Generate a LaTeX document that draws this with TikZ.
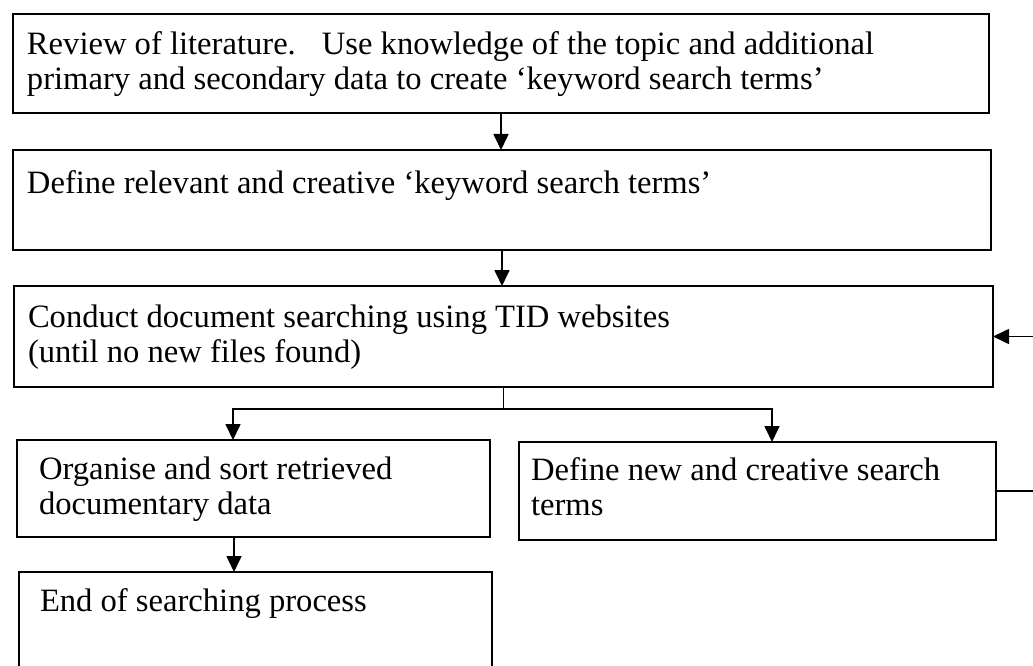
\documentclass[tikz,border=0pt]{standalone}
\usepackage{fontspec}
\setmainfont{Liberation Serif}
\usetikzlibrary{arrows.meta}
\newcommand\boxtext[4]{\parbox[c][#1pt][t]{#3pt}{\vspace*{#2pt}\raggedright\strut #4}}
\begin{document}
\begin{tikzpicture}[x=1pt,y=-1pt,
  font=\fontsize{32.6}{35}\selectfont,
  box/.style={draw, line width=1.7pt, anchor=north west, inner ysep=0pt, outer sep=0pt},
  openbox/.style={anchor=north west, inner ysep=0pt, outer sep=0pt},
  conn/.style={line width=1.7pt},
  arr/.style={conn, -{Triangle[width=15pt,length=16pt]}}]
\useasboundingbox (0,0) rectangle (1033,666);

\node[box, inner xsep=14pt] (b1) at (13,14)
  {\boxtext{99}{16.5}{948}{Review of literature.\hspace{26pt}Use knowledge of the topic and additional\\ primary and secondary data to create ‘keyword search terms’}};
\node[box, inner xsep=14pt] (b2) at (13,150)
  {\boxtext{100}{18.5}{950}{Define relevant and creative ‘keyword search terms’}};
\node[box, inner xsep=14pt] (b3) at (14,286)
  {\boxtext{101}{16.5}{951}{Conduct document searching using TID websites\\ (until no new files found)}};
\node[box, inner xsep=22pt] (org) at (17,440)
  {\boxtext{97}{14.5}{429}{Organise and sort retrieved\\ documentary data}};
\node[box, inner xsep=12pt] (new) at (519,442)
  {\boxtext{98}{13.5}{453}{Define new and creative search\\ terms}};
\node[openbox, inner xsep=21pt] (end) at (19,572)
  {\boxtext{96}{14.5}{431}{End of searching process}};
\draw[conn] (end.south west) -- (end.north west) -- (end.north east) -- (end.south east);

% main flow
\draw[arr] (b1.south) -- (b1.south |- b2.north);
\draw[arr] (b2.south) -- (b2.south |- b3.north);

% branch
\draw[conn] (b3.south) -- ++(0,22) coordinate (split);
\coordinate (orgin) at ([xshift=216pt]org.north west);
\coordinate (newin) at ([xshift=253pt]new.north west);
\draw[arr] (split) -| (orgin);
\draw[arr] (split) -| (newin);

% to end
\coordinate (orgout) at ([xshift=217pt]org.south west);
\draw[arr] (orgout) -- (orgout |- end.north);

% feedback loop (leaves the picture on the right)
\coordinate (edgeA) at (1034,489);
\coordinate (edgeB) at (1034,337);
\draw[conn] (new.east) -- (new.east -| edgeA);
\draw[arr] (b3.east -| edgeB) -- (b3.east);
\end{tikzpicture}
\end{document}
